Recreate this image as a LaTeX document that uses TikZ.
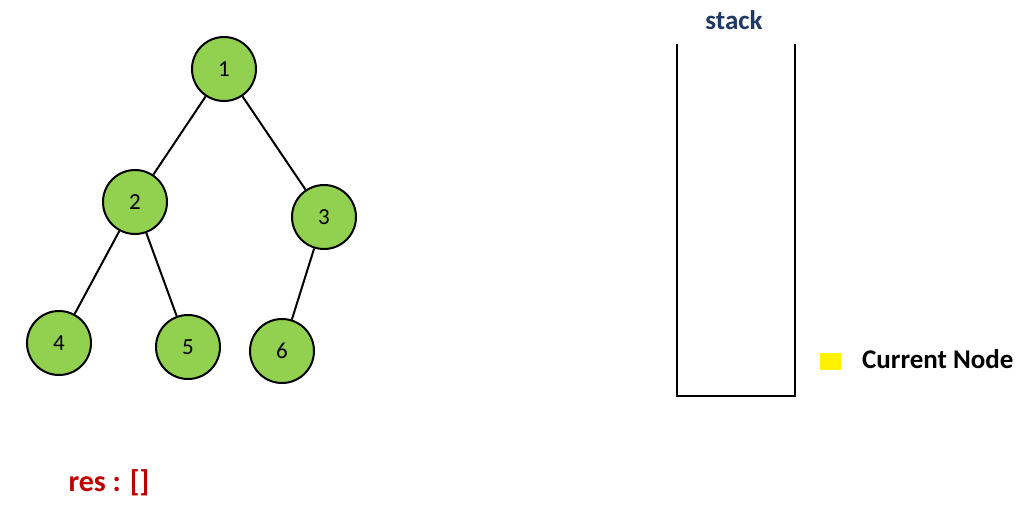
\documentclass[tikz,border=0pt]{standalone}
\usepackage{fontspec}
\setmainfont{Carlito}
\definecolor{treegreen}{HTML}{92D050}
\definecolor{stackblue}{HTML}{1F3864}
\definecolor{resred}{HTML}{C00000}
\tikzset{
  treenode/.style={circle, draw=black, line width=2pt, fill=treegreen, minimum size=64pt, inner sep=0pt, font=\fontsize{23}{23}\selectfont},
  treeedge/.style={line width=2pt},
  bigbold/.style={font=\fontsize{27}{27}\selectfont\bfseries}
}
\begin{document}
\begin{tikzpicture}[x=1pt,y=-1pt]
    \useasboundingbox (0,0) rectangle (1032,512);

    % tree
    \node[treenode] (n1) at (224,69) {1};
    \node[treenode] (n2) at (135,202) {2};
    \node[treenode] (n3) at (324,217) {3};
    \node[treenode] (n4) at (59,343) {4};
    \node[treenode] (n5) at (188,347) {5};
    \node[treenode] (n6) at (282,351) {6};
    \draw[treeedge] (n1) -- (n2); \draw[treeedge] (n1) -- (n3);
    \draw[treeedge] (n2) -- (n4); \draw[treeedge] (n2) -- (n5);
    \draw[treeedge] (n3) -- (n6);

    % stack
    \coordinate (stacktl) at (677,44); \coordinate (stacktr) at (795,44);
    \coordinate (stackbl) at (677,396); \coordinate (stackbr) at (795,396);
    \draw[line width=2.2pt] (stacktl) -- (stackbl) -- (stackbr) -- (stacktr);
    \node[bigbold, text=stackblue] (stacklabel) at (734,20) {stack};

    % legend and result
    \node[fill=yellow, minimum width=21pt, minimum height=17pt, inner sep=0pt] (curkey) at (830,361) {};
    \node[bigbold, anchor=west, inner sep=0pt] (curtext) at (862,359) {Current Node};
    \node[font=\fontsize{30}{30}\selectfont\bfseries, text=resred] (res) at (109,483) {res : []};
\end{tikzpicture}
\end{document}
